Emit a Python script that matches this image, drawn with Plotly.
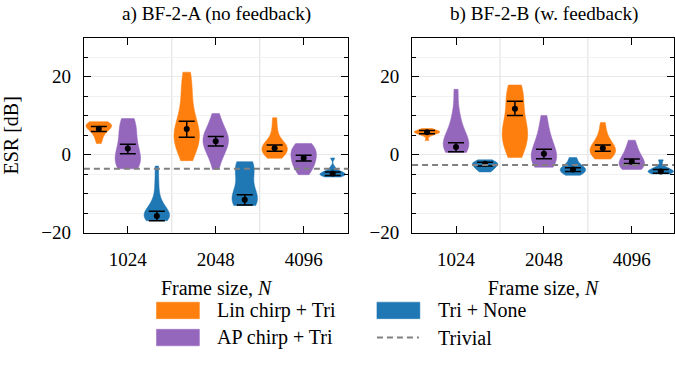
import plotly.graph_objects as go

# ---------------- data (ESR in dB) ----------------
FRAME_SIZES = ["1024", "2048", "4096"]
SERIES = ["Lin chirp + Tri", "AP chirp + Tri", "Tri + None"]
COLORS = ["#ff7f0e", "#9467bd", "#1f77b4"]
PANEL_TITLES = ["a) BF-2-A (no feedback)", "b) BF-2-B (w. feedback)"]

# samples (estimated from violin shapes), one list per frame size
A_LIN = [[8.5, 8.3, 8.1, 7.9, 7.7, 7.5, 7.3, 7.1, 6.8, 6.5, 6.1, 5.6, 4.9, 4.0, 2.9],
         [21.2, 19.5, 17.5, 15.5, 13.0, 10.5, 8.5, 7.5, 6.5, 5.8, 5.2, 4.6, 4.0, 3.4, 2.8, 2.0, 1.0, -1.5],
         [9.5, 7.0, 5.0, 3.6, 3.0, 2.6, 2.2, 1.8, 1.4, 1.0, 0.6, 0.1, -0.4, -0.9]]
A_AP = [[9.3, 8.5, 7.5, 6.0, 4.5, 3.0, 1.5, 0.5, -0.5, -1.3, -2.0, -2.6, -3.1, -3.6],
        [10.6, 8.5, 7.0, 6.0, 5.2, 4.6, 4.0, 3.4, 2.7, 2.0, 1.2, 0.2, -1.2, -3.75],
        [2.9, 2.4, 1.8, 1.2, 0.6, 0.0, -0.6, -1.2, -1.8, -2.5, -3.2, -4.0, -5.1]]
A_TRI = [[-2.9, -7.0, -10.5, -12.5, -13.8, -14.5, -15.0, -15.4, -15.7, -16.0, -16.3, -16.6, -16.9],
         [-1.75, -2.3, -3.0, -3.8, -5.0, -7.5, -9.5, -10.5, -11.2, -11.8, -12.3, -12.7, -13.0],
         [-0.8, -3.2, -4.1, -4.4, -4.6, -4.8, -5.0, -5.1, -5.3, -5.5, -5.7]]

B_LIN = [[6.75, 6.5, 6.3, 6.1, 6.0, 5.9, 5.8, 5.7, 5.6, 5.4, 5.2, 4.8, 3.7],
         [17.9, 17.0, 16.0, 15.0, 13.5, 11.5, 9.5, 8.0, 7.0, 6.2, 5.5, 4.8, 4.0, 3.0, 1.8, 0.5, -0.7],
         [8.3, 6.0, 4.5, 3.3, 2.6, 2.1, 1.7, 1.3, 0.9, 0.4, -0.1, -0.6, -1.1]]
B_AP = [[16.8, 11.0, 8.0, 6.0, 4.5, 3.5, 2.8, 2.2, 1.7, 1.2, 0.6],
        [10.1, 7.5, 5.5, 4.0, 2.8, 1.8, 1.0, 0.3, -0.4, -1.0, -1.6, -2.2, -2.7, -3.2],
        [3.75, 2.0, 0.8, -0.2, -1.0, -1.6, -2.1, -2.6, -3.0, -3.4, -3.75]]
B_TRI = [[-1.3, -1.6, -1.9, -2.1, -2.3, -2.5, -2.7, -3.0, -3.3, -3.7, -4.0, -4.4],
         [-0.7, -1.5, -2.6, -3.0, -3.3, -3.6, -3.9, -4.2, -4.5, -4.8, -5.25],
         [-1.3, -3.0, -3.6, -3.9, -4.1, -4.3, -4.5, -4.7, -4.9]]

# means with confidence interval (low, high)
A_LIN_MEAN = [6.7, 6.6, 1.7];   A_LIN_LO = [6.0, 4.5, 0.9];     A_LIN_HI = [7.25, 8.6, 2.5]
A_AP_MEAN = [1.6, 3.5, -0.8];   A_AP_LO = [0.3, 2.25, -1.6];    A_AP_HI = [2.7, 4.7, -0.1]
A_TRI_MEAN = [-15.7, -11.5, -4.8]; A_TRI_LO = [-16.9, -12.9, -5.3]; A_TRI_HI = [-14.5, -10.25, -4.4]
B_LIN_MEAN = [5.8, 11.8, 1.7];  B_LIN_LO = [5.4, 10.1, 0.9];    B_LIN_HI = [6.25, 13.75, 2.5]
B_AP_MEAN = [2.0, 0.25, -1.75]; B_AP_LO = [0.8, -1.0, -2.2];    B_AP_HI = [3.1, 1.4, -1.1]
B_TRI_MEAN = [-2.3, -3.8, -4.25]; B_TRI_LO = [-2.9, -4.3, -4.7]; B_TRI_HI = [-1.9, -3.3, -3.8]

TRIVIAL = [-3.6, -2.6]

# ---------------- styling ----------------
FONT = "Liberation Serif"
FS_TICK = 19
FS_TITLE = 19.2
FS_LABEL = 20
FS_LEG = 20
OFFSETS = [-0.33, 0.0, 0.33]
VWIDTH = 0.29

panels = [
    dict(samples=[A_LIN, A_AP, A_TRI],
         mean=[A_LIN_MEAN, A_AP_MEAN, A_TRI_MEAN],
         lo=[A_LIN_LO, A_AP_LO, A_TRI_LO],
         hi=[A_LIN_HI, A_AP_HI, A_TRI_HI]),
    dict(samples=[B_LIN, B_AP, B_TRI],
         mean=[B_LIN_MEAN, B_AP_MEAN, B_TRI_MEAN],
         lo=[B_LIN_LO, B_AP_LO, B_TRI_LO],
         hi=[B_LIN_HI, B_AP_HI, B_TRI_HI]),
]

fig = go.Figure()
for p, panel in enumerate(panels):
    xa = "x" if p == 0 else "x2"
    ya = "y" if p == 0 else "y2"
    for s in range(3):
        for g in range(3):
            vals = panel["samples"][s][g]
            pos = g + OFFSETS[s]
            fig.add_trace(go.Violin(
                x=[pos] * len(vals), y=vals, xaxis=xa, yaxis=ya,
                width=VWIDTH, spanmode="hard", points=False,
                box_visible=False, meanline_visible=False,
                fillcolor=COLORS[s], line=dict(color=COLORS[s], width=0.5),
                opacity=1, showlegend=False, hoverinfo="skip"))
        xs = [g + OFFSETS[s] for g in range(3)]
        m = panel["mean"][s]
        up = [h - mm for h, mm in zip(panel["hi"][s], m)]
        dn = [mm - l for l, mm in zip(panel["lo"][s], m)]
        fig.add_trace(go.Scatter(
            x=xs, y=m, xaxis=xa, yaxis=ya, mode="markers",
            marker=dict(color="black", size=6),
            error_y=dict(type="data", symmetric=False, array=up, arrayminus=dn,
                         color="black", thickness=1.5, width=8),
            showlegend=False, hoverinfo="skip"))

W, H = 675, 366
def px_x(v):
    return v / W
def px_y(v):
    return 1 - v / H

y_dom = [px_y(240), px_y(39)]
x_doms = [[px_x(84), px_x(349)], [px_x(412.7), 1.0]]
x_ranges = [[-0.5, 2.51], [-0.5, 2.48]]

axis_common = dict(showline=True, linecolor="black", linewidth=1.2, mirror="allticks",
                   ticks="inside", tickcolor="black", tickwidth=1.1,
                   tickfont=dict(family=FONT, size=FS_TICK, color="black"), zeroline=False)

layout = dict(
    width=W, height=H, margin=dict(l=0, r=0, t=0, b=0),
    plot_bgcolor="white", paper_bgcolor="white", violinmode="overlay",
    font=dict(family=FONT, size=FS_TICK, color="black"),
    showlegend=False,
)
for p in range(2):
    sx = "" if p == 0 else "2"
    layout["xaxis" + sx] = dict(
        axis_common, domain=x_doms[p], range=x_ranges[p], anchor="y" + sx,
        tickvals=[0, 1, 2], ticktext=FRAME_SIZES, ticklen=7, showgrid=False,
        ticklabelstandoff=9,
        title=dict(text="Frame size, <i>N</i>", standoff=12,
                   font=dict(family=FONT, size=FS_LABEL, color="black")))
    layout["yaxis" + sx] = dict(
        axis_common, domain=y_dom, range=[-20, 30], anchor="x" + sx,
        tickvals=[-20, 0, 20], ticklen=7, showgrid=True, gridcolor="#e8e8e8", gridwidth=1,
        ticklabelstandoff=8,
        minor=dict(dtick=5, tick0=0, ticks="inside", ticklen=4, tickcolor="black",
                   showgrid=True, gridcolor="#f1f1f1", gridwidth=1),
        title=dict(text="ESR [dB]" if p == 0 else "", standoff=18,
                   font=dict(family=FONT, size=FS_LABEL, color="black")))
fig.update_layout(**layout)

shapes = []
for p in range(2):
    sx = "" if p == 0 else "2"
    for xv in [0.5, 1.5]:
        shapes.append(dict(type="line", xref="x" + sx, yref="y" + sx + " domain",
                           x0=xv, x1=xv, y0=0, y1=1, line=dict(color="#e3e3e3", width=1.2),
                           layer="below"))
    shapes.append(dict(type="line", xref="x" + sx + " domain", yref="y" + sx,
                       x0=0, x1=1, y0=TRIVIAL[p], y1=TRIVIAL[p],
                       line=dict(color="#808080", width=2, dash="6px,4px"), layer="above"))

annotations = []
for p in range(2):
    annotations.append(dict(text=PANEL_TITLES[p], xref="paper", yref="paper",
                            x=sum(x_doms[p]) / 2 if p == 0 else px_x(544.7), y=px_y(14),
                            xanchor="center", yanchor="middle",
                            showarrow=False, font=dict(family=FONT, size=FS_TITLE, color="black")))

# manual legend
leg = [
    (SERIES[0], COLORS[0], "patch", 156.7, 320),
    (SERIES[1], COLORS[1], "patch", 156.7, 348),
    (SERIES[2], COLORS[2], "patch", 377.5, 320),
    ("Trivial", "#808080", "line", 377.5, 348),
]
for label, col, kind, lx, ly in leg:
    if kind == "patch":
        shapes.append(dict(type="rect", xref="paper", yref="paper",
                           x0=px_x(lx), x1=px_x(lx + 43), y0=px_y(ly + 8.5), y1=px_y(ly - 8.5),
                           fillcolor=col, line=dict(color=col, width=0.5)))
    else:
        shapes.append(dict(type="line", xref="paper", yref="paper",
                           x0=px_x(lx), x1=px_x(lx + 42), y0=px_y(ly), y1=px_y(ly),
                           line=dict(color=col, width=2, dash="6px,4px")))
    annotations.append(dict(text=label, xref="paper", yref="paper",
                            x=px_x(lx + 59), y=px_y(ly), xanchor="left", yanchor="middle",
                            showarrow=False, font=dict(family=FONT, size=FS_LEG, color="black")))

fig.update_layout(shapes=shapes, annotations=annotations)
fig.write_html("out.html")
